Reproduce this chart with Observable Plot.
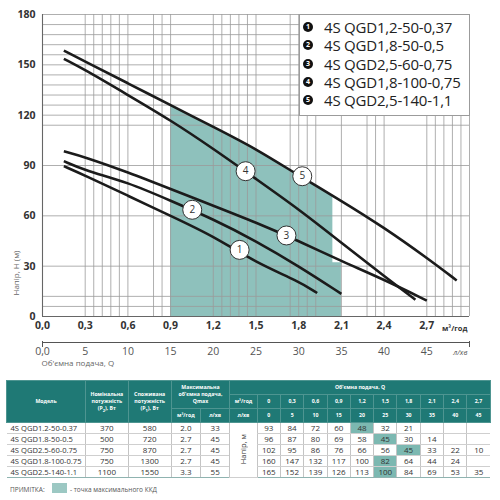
<!DOCTYPE html>
<html><head><meta charset="utf-8">
<script src="https://cdn.jsdelivr.net/npm/d3@7"></script>
<script src="https://cdn.jsdelivr.net/npm/@observablehq/plot@0.6"></script>
<style>
html,body{margin:0;padding:0;background:#fff;}
body{width:500px;height:500px;overflow:hidden;font-family:"Open Sans",sans-serif;}
#wrap{position:relative;width:500px;height:500px;}
#chart svg,#axis2 svg{display:block;}
#legend{position:absolute;left:299px;top:14px;width:171px;height:102px;background:#fff;border:1px solid #9b9b9b;box-sizing:border-box;padding-top:2.6px;}
#legend .row{height:18.4px;display:flex;align-items:center;}
#legend .dot{width:10px;height:10px;border-radius:50%;background:#111;color:#fff;font-size:7px;font-weight:700;line-height:10px;text-align:center;margin-left:3px;flex:none;}
#legend .lab{margin-left:11px;font-size:15px;color:#222;white-space:nowrap;letter-spacing:-0.2px;}
#tbl{position:absolute;left:6px;top:380px;width:484px;}
#tbl table{border-collapse:collapse;table-layout:fixed;width:484px;}
#tbl th{background:#1f7975;color:#fff;font-size:5.2px;font-weight:700;line-height:7px;padding:0;border:0.6px solid #4e9591;text-align:center;vertical-align:middle;overflow:hidden;}
#tbl tr.h{height:14px;}
#tbl tr.d{height:10.8px;}
#tbl td{font-size:8px;color:#333;text-align:center;padding:0;line-height:10px;border-bottom:0.8px solid #cfcfcf;border-left:0.8px solid #c4c4c4;white-space:nowrap;overflow:hidden;}
#tbl td.m{text-align:left;padding-left:4px;font-size:7.6px;border-left:none;}
#tbl td.best{background:#7cb8b1;}
#tbl td.unit{font-size:7.5px;}
#tbl td.unit span{display:inline-block;writing-mode:vertical-rl;transform:rotate(180deg);}
#tbl tr.last td{border-bottom:1px solid #8fb3b0;}
#note{position:absolute;top:483px;left:0;width:500px;height:12px;font-size:6.5px;color:#555;}
#note .nt{position:absolute;left:10px;top:2px;}
#note .bx{position:absolute;left:52px;top:0px;width:15px;height:10px;background:#9cc8c3;}
#note .tx{position:absolute;left:70px;top:2px;}
</style></head>
<body><div id="wrap"><div id="chart"></div><div id="axis2"></div><div id="legend"></div><div id="tbl"></div>
<div id="note"><span class="nt">ПРИМІТКА:</span><span class="bx"></span><span class="tx">- точка максимального ККД</span></div></div>
<script>
// ---------- data ----------
const modelNames = ["4S QGD1,2-50-0,37","4S QGD1,8-50-0,5","4S QGD2,5-60-0,75","4S QGD1,8-100-0,75","4S QGD2,5-140-1,1"];
const curveIds = ["1","2","3","4","5"];
const curve1Q = [0.15, 0.3, 0.6, 0.9, 1.2, 1.5, 1.8, 1.93];
const curve1H = [89.6, 84, 72, 60, 48, 32, 21, 14];
const curve2Q = [0.15, 0.3, 0.6, 0.9, 1.2, 1.5, 1.8, 2.1];
const curve2H = [92.6, 87, 80, 69, 58, 45, 30, 13.5];
const curve3Q = [0.15, 0.3, 0.6, 0.9, 1.2, 1.5, 1.8, 2.1, 2.4, 2.7];
const curve3H = [98.5, 95, 86, 76, 66, 56, 45, 33, 22, 9.5];
const curve4Q = [0.15, 0.3, 0.6, 0.9, 1.2, 1.5, 1.8, 2.1, 2.4, 2.62];
const curve4H = [153.6, 147, 132, 117, 100, 82, 64, 44, 24, 10];
const curve5Q = [0.15, 0.3, 0.6, 0.9, 1.2, 1.5, 1.8, 2.1, 2.4, 2.7, 2.91];
const curve5H = [158.5, 152, 139, 126, 113, 100, 84, 69, 53, 35, 21.5];
const labelQ = [1.385, 1.052, 1.714, 1.427, 1.825];
const labelH = [39.7, 63.6, 48.3, 86.6, 83.6];
const shadeQ = [0.9, 1.2, 1.5, 1.8, 2.04, 2.04, 2.1];
const shadeH = [126, 113, 100, 84, 72, 32, 32];
const gridQ = [0.3,0.36,0.42,0.48,0.54,0.6,0.78,0.84,0.9,1.2,1.26,1.32,1.38,1.44,1.5,1.74,1.8,1.86,1.92,2.1,2.28,2.34,2.4,2.7,2.76,2.82,2.88,2.94,3.0];
const gridH = [6,12,30,60,90,114,120,126,132,138,144,150,156,162,168,174,180];
const xTicks = [0,0.3,0.6,0.9,1.2,1.5,1.8,2.1,2.4,2.7];
const yTicks = [0,30,60,90,120,150,180];
const lpmTicks = [0,5,10,15,20,25,30,35,40,45];
// table
const p2 = [370, 500, 750, 750, 1100];
const p1 = [580, 720, 870, 1300, 1550];
const qmaxM3 = ["2.0","2.7","2.7","2.7","3.3"];
const qmaxLpm = [33, 45, 45, 45, 55];
const tableQ = ["0","0,3","0,6","0,9","1,2","1,5","1,8","2,1","2,4","2,7"];
const tableLpm = ["0","5","10","15","20","25","30","35","40","45"];
const head1 = [93, 84, 72, 60, 48, 32, 21, null, null, null];
const head2 = [96, 87, 80, 69, 58, 45, 30, 14, null, null];
const head3 = [102, 95, 86, 76, 66, 56, 45, 33, 22, 10];
const head4 = [160, 147, 132, 117, 100, 82, 64, 44, 24, null];
const head5 = [165, 152, 139, 126, 113, 100, 84, 69, 53, 35];
const bestIndex = [4, 5, 6, 5, 5];

// ---------- chart ----------
const curvesQ = [curve1Q, curve2Q, curve3Q, curve4Q, curve5Q];
const curvesH = [curve1H, curve2H, curve3H, curve4H, curve5H];
const curvePts = curveIds.flatMap((id, k) => curvesQ[k].map((q, i) => ({id, q, h: curvesH[k][i]})));
const labels = curveIds.map((id, i) => ({id, q: labelQ[i], h: labelH[i]}));
const shade = shadeQ.map((q, i) => ({q, h: shadeH[i]}));
const comma1 = v => d3.format(".1f")(v).replace(".", ",");
const font = "Open Sans, sans-serif";

const chart = Plot.plot({
  width: 500, height: 336,
  marginLeft: 42, marginRight: 31, marginTop: 14, marginBottom: 20,
  x: {domain: [0, 3]},
  y: {domain: [0, 180]},
  style: {fontFamily: font, background: "#fff", overflow: "visible"},
  marks: [
    Plot.areaY(shade, {x: "q", y1: 0, y2: "h", fill: "#8ec1bc"}),
    Plot.ruleX(gridQ, {stroke: "#9a9a9a", strokeWidth: 0.8}),
    Plot.ruleY(gridH, {stroke: "#9a9a9a", strokeWidth: 0.8}),
    Plot.ruleX([0], {stroke: "#666", strokeWidth: 1.1}),
    Plot.ruleY([0], {stroke: "#666", strokeWidth: 1.1}),
    Plot.line(curvePts, {x: "q", y: "h", z: "id", stroke: "#1b1b1b", strokeWidth: 2.6, curve: "basis", strokeLinecap: "butt"}),
    Plot.dot(labels, {x: "q", y: "h", r: 9.5, fill: "#fff", stroke: "#333", strokeWidth: 1}),
    Plot.text(labels, {x: "q", y: "h", text: "id", fontSize: 10, fill: "#333"}),
    Plot.axisX(xTicks, {tickSize: 0, tickPadding: 5, tickFormat: comma1, fontSize: 10.5, fontWeight: "bold", fill: "#333", label: null}),
    Plot.axisY(yTicks, {tickSize: 0, tickPadding: 7, fontSize: 10.5, fontWeight: "bold", fill: "#333", label: null}),
    Plot.text(["м³/год"], {frameAnchor: "bottom-right", dx: -2, dy: 14, fontSize: 7.5, fontWeight: "bold", fill: "#333"}),
    Plot.text(["Напір, Н (м)"], {frameAnchor: "bottom-left", rotate: -90, dx: -24, dy: -21, fontSize: 8, fill: "#666"})
  ]
});
document.getElementById("chart").appendChild(chart);

const axis2 = Plot.plot({
  width: 500, height: 38,
  marginLeft: 42, marginRight: 31, marginTop: 5, marginBottom: 32,
  x: {domain: [0, 50]},
  y: {domain: [0, 1], axis: null},
  style: {fontFamily: font, background: "#fff", overflow: "visible"},
  marks: [
    Plot.ruleY([0], {stroke: "#555", strokeWidth: 1}),
    Plot.ruleX([0, 50], {stroke: "#555", strokeWidth: 1, insetBottom: -5}),
    Plot.axisX(lpmTicks, {tickSize: 0, tickPadding: 5, tickFormat: d => d === 0 ? "0,0" : String(d), fontSize: 10.5, fill: "#555", label: null}),
    Plot.text(["л/хв"], {frameAnchor: "bottom-right", dx: -2, dy: 12, fontSize: 7.5, fontStyle: "italic", fill: "#555"}),
    Plot.text(["Об'ємна подача, Q"], {frameAnchor: "bottom-left", textAnchor: "start", dx: -1, dy: 23, fontSize: 8, fill: "#666"})
  ]
});
document.getElementById("axis2").appendChild(axis2);

// ---------- legend ----------
const leg = d3.select("#legend");
modelNames.forEach((name, i) => {
  const row = leg.append("div").attr("class", "row");
  row.append("span").attr("class", "dot").text(curveIds[i]);
  row.append("span").attr("class", "lab").text(name);
});

// ---------- table ----------
const heads = [head1, head2, head3, head4, head5];
let html = '<table><colgroup><col style="width:79px"><col style="width:42.7px"><col style="width:43px"><col style="width:29.3px"><col style="width:29.3px"><col style="width:27.4px">' +
  tableQ.map(() => '<col style="width:23.3px">').join("") + '</colgroup>';
html += '<tr class="h"><th rowspan="3">Модель</th><th rowspan="3">Номінальна<br>потужність<br>(P<sub style="font-size:4px;line-height:0">2</sub>), Вт</th><th rowspan="3">Споживана<br>потужність<br>(P<sub style="font-size:4px;line-height:0">1</sub>), Вт</th><th rowspan="2" colspan="2">Максимальна<br>об\u2019ємна подача,<br>Qmax</th><th colspan="11">Об\u2019ємна подача, Q</th></tr>';
html += '<tr class="h"><th>м³/год</th>' + tableQ.map(q => `<th>${q}</th>`).join("") + '</tr>';
html += '<tr class="h"><th>м³/год</th><th>л/хв</th><th>л/хв</th>' + tableLpm.map(q => `<th>${q}</th>`).join("") + '</tr>';
modelNames.forEach((name, i) => {
  html += `<tr class="d${i === 4 ? " last" : ""}"><td class="m">${name.replace(/,/g, ".")}</td><td>${p2[i]}</td><td>${p1[i]}</td><td>${qmaxM3[i]}</td><td>${qmaxLpm[i]}</td>`;
  if (i === 0) html += '<td rowspan="5" class="unit"><span>Напір, м</span></td>';
  html += heads[i].map((v, j) => `<td${j === bestIndex[i] ? ' class="best"' : ""}>${v == null ? "" : v}</td>`).join("");
  html += '</tr>';
});
html += '</table>';
document.getElementById("tbl").innerHTML = html;
</script>
</body></html>
